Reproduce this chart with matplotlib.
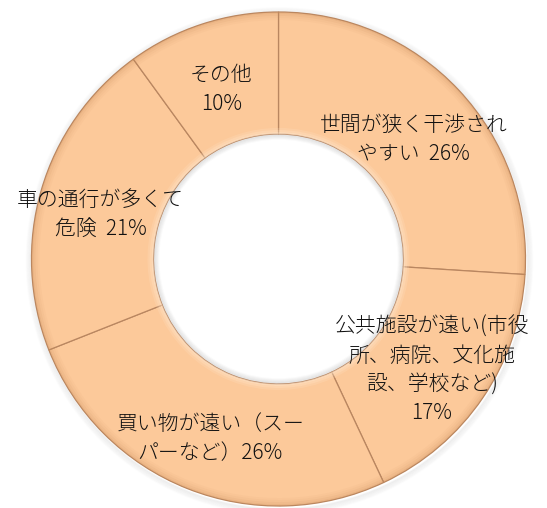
import matplotlib.pyplot as plt
from matplotlib.patches import Circle, Wedge

plt.rcParams['font.family'] = ['Noto Sans CJK JP', 'DejaVu Sans']

labels = ['世間が狭く干渉され\nやすい  26%',
          '公共施設が遠い(市役\n所、病院、文化施\n設、学校など)\n17%',
          '買い物が遠い（スー\nパーなど）26%',
          '車の通行が多くて\n危険  21%',
          'その他\n10%']
shares = [26, 17, 26, 21, 10]

peach = '#FCC99A'
rim = '#B98660'

fig = plt.figure(figsize=(5.47, 5.08), dpi=100)
ax = fig.add_axes([0, 0, 1, 1])

cx, cy = 278.5, 249
r_out, r_in = 247, 125

# soft drop shadow behind the ring
for k in range(6):
    ax.add_patch(Circle((cx + 1, cy - 2), r_out + 1 + k, facecolor='none',
                        edgecolor='#8a8a8a', lw=1.2, alpha=0.09 - k * 0.013, zorder=0))

wedges, texts = ax.pie(shares, labels=labels, startangle=90, counterclock=False,
                       center=(cx, cy), radius=r_out, labeldistance=0.75,
                       colors=[peach] * len(shares),
                       wedgeprops=dict(width=r_out - r_in, edgecolor=rim, linewidth=0.9),
                       textprops=dict(fontsize=15, color='#111111', fontweight='light'))

for t in texts:
    x, y = t.get_position()
    t.set_position((x, y - 7))
    t.set_horizontalalignment('center')
    t.set_verticalalignment('center')
    t.set_multialignment('center')
    t.set_linespacing(1.4)
    t.set_zorder(5)

# bevel: soft darker outer rim, light inner rim
for w in wedges:
    a1, a2 = w.theta1, w.theta2
    for k, a in enumerate([0.35, 0.22, 0.12, 0.06]):
        ax.add_patch(Wedge((cx, cy), r_out - 2 * k, a1, a2, width=2,
                           facecolor='#C98D5C', edgecolor='none', alpha=a, zorder=2))
    for k, a in enumerate([0.6, 0.4, 0.2]):
        ax.add_patch(Wedge((cx, cy), r_in + 2 * (k + 1), a1, a2, width=2,
                           facecolor='#FFE6CC', edgecolor='none', alpha=a, zorder=2))

# shadow inside the hole
for k in range(5):
    ax.add_patch(Circle((cx, cy), r_in - 1 - k, facecolor='none',
                        edgecolor='#9a9a9a', lw=1.2, alpha=0.18 - k * 0.035, zorder=2))

ax.set_aspect('equal')
ax.set_xlim(0, 547)
ax.set_ylim(0, 508)
ax.axis('off')

fig.savefig('out.png', dpi=100, facecolor='white')
